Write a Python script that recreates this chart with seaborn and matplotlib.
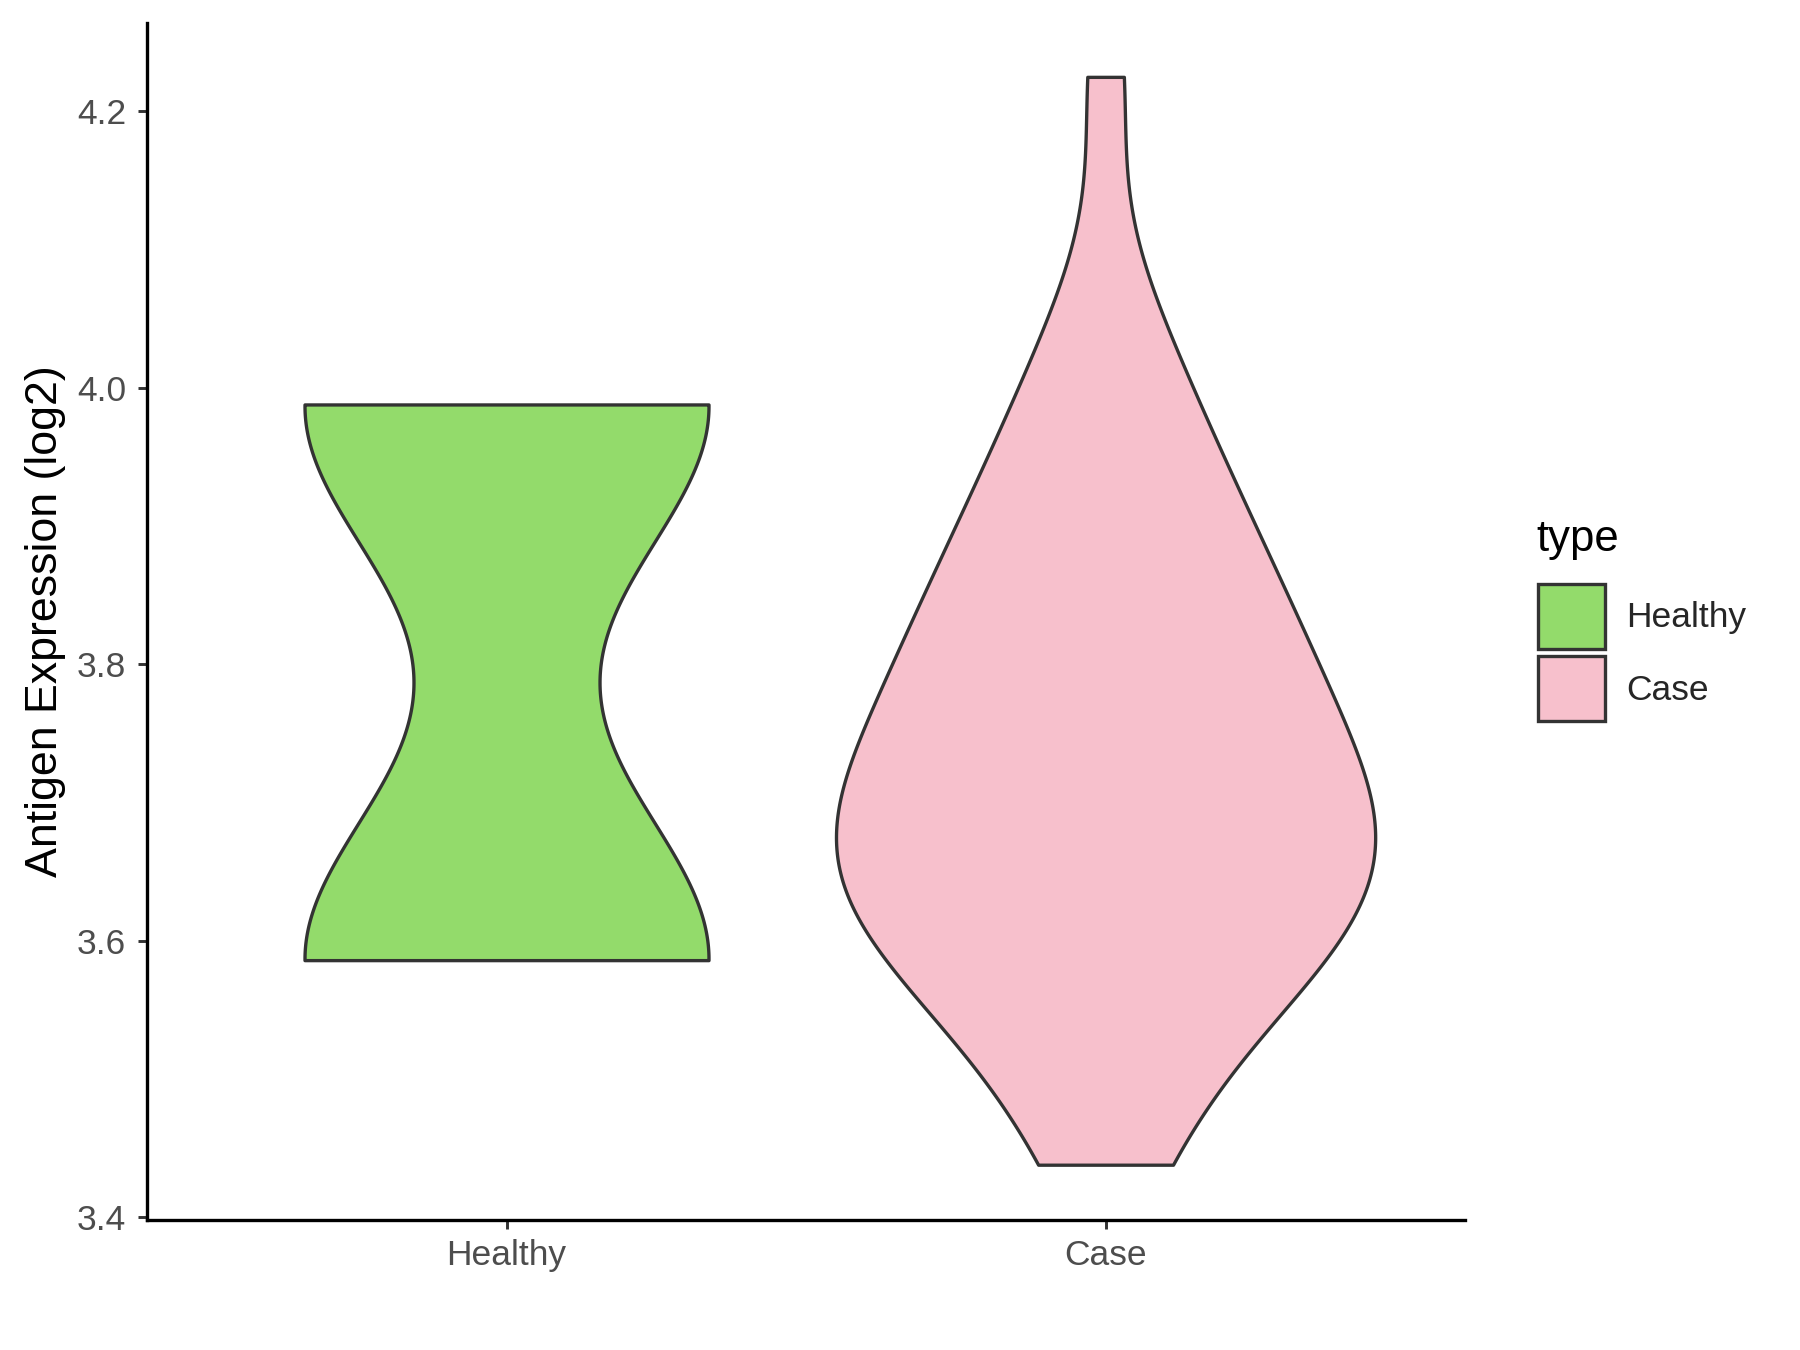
import numpy as np
import pandas as pd
import matplotlib
matplotlib.use("Agg")
import matplotlib.pyplot as plt
from matplotlib.patches import Patch
import seaborn as sns

# ---------------------------------- data ----------------------------------- #
groups = ["Healthy", "Case"]
fill_colors = ["#93DB6B", "#F7C0CC"]

healthy_vals = [3.586, 3.988]
case_vals = [3.438, 3.446, 3.505, 3.530, 3.548, 3.564, 3.578, 3.590, 3.601, 3.611,
             3.622, 3.632, 3.643, 3.655, 3.664, 3.670, 3.677, 3.685, 3.696, 3.707,
             3.719, 3.731, 3.745, 3.757, 3.769, 3.782, 3.795, 3.809, 3.823, 3.838,
             3.854, 3.871, 3.889, 3.909, 3.931, 3.955, 3.983, 4.018, 4.066, 4.225]

y_ticks = [3.4, 3.6, 3.8, 4.0, 4.2]
y_tick_labels = ["3.4", "3.6", "3.8", "4.0", "4.2"]

df = pd.DataFrame({
    "type": ["Healthy"] * len(healthy_vals) + ["Case"] * len(case_vals),
    "expr": healthy_vals + case_vals,
})

# --------------------------------- style ----------------------------------- #
sns.set_style("ticks")
plt.rcParams["font.family"] = ["Liberation Sans", "DejaVu Sans"]

fig = plt.figure(figsize=(12, 9), dpi=150)
ax = fig.add_axes([0.0817, 0.0963, 0.7322, 0.8867])

sns.violinplot(data=df, x="type", y="expr", hue="type", order=groups,
               hue_order=groups, palette=fill_colors, saturation=1, cut=0,
               inner=None, bw_method=0.413, density_norm="area",
               common_norm=True, width=0.9, gridsize=400, linewidth=1.6,
               linecolor="#333333", legend=False, ax=ax)

ax.set_xlim(-0.6, 1.6)
ax.set_ylim(3.398, 4.264)
ax.set_yticks(y_ticks)
ax.set_yticklabels(y_tick_labels)
ax.set_xlabel("")
ax.set_ylabel("Antigen Expression (log2)", fontsize=21.5, color="black", labelpad=5.5)

sns.despine(ax=ax)
for side in ["left", "bottom"]:
    ax.spines[side].set_color("black")
    ax.spines[side].set_linewidth(1.6)
ax.tick_params(axis="both", length=4.5, width=1.4, color="#333333",
               labelcolor="#4D4D4D", labelsize=17)
ax.tick_params(axis="y", pad=5.5)
ax.tick_params(axis="x", pad=4.5)

# -------------------------------- legend ----------------------------------- #
fig.text(0.8535, 0.600, "type", fontsize=21, color="black", ha="left", va="center")
handles = [Patch(facecolor=c, edgecolor="#333333", linewidth=1.6, label=g)
           for g, c in zip(groups, fill_colors)]
fig.legend(handles=handles, loc="upper left", bbox_to_anchor=(0.8546, 0.5674),
           frameon=False, fontsize=17, borderpad=0, borderaxespad=0,
           handlelength=1.87, handleheight=2.45, labelspacing=0.2,
           handletextpad=0.62)

fig.savefig("out.png", dpi=150)
